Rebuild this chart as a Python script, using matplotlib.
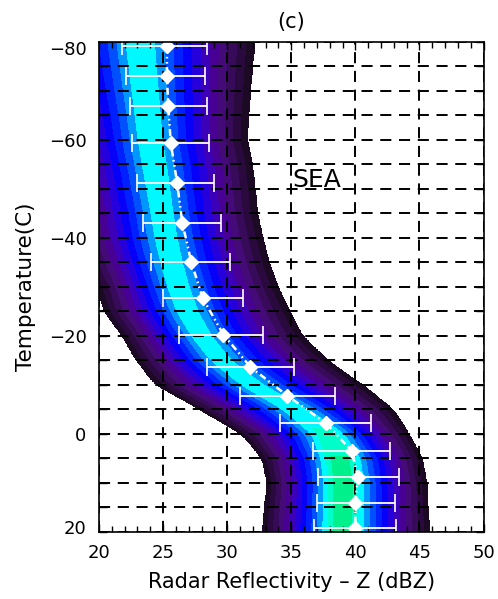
import numpy as np
import matplotlib
matplotlib.use("Agg")
import matplotlib.pyplot as plt
import matplotlib.transforms as mtransforms
from matplotlib.colors import ListedColormap, BoundaryNorm
from matplotlib.ticker import MultipleLocator, FixedLocator

plt.rcParams['font.family'] = ['DejaVu Sans']
plt.rcParams['lines.scale_dashes'] = False

# ---- axis tick values ----
x_ticks = [20, 25, 30, 35, 40, 45, 50]
y_ticks = [-80, -60, -40, -20, 0, 20]

# ---- mean reflectivity profile with spread (white diamonds + bars) ----
mean_temp = [-79.1, -73.1, -67.0, -59.4, -51.2, -43.1, -35.1, -27.65,
             -20.3, -13.7, -7.8, -2.2, 3.4, 8.7, 14.0, 19.1]
mean_dbz = [25.3, 25.3, 25.4, 25.6, 26.1, 26.5, 27.2, 28.1,
            29.7, 31.8, 34.7, 37.7, 39.7, 40.2, 40.0, 40.0]
err_low = [21.8, 22.1, 22.4, 22.6, 23.0, 23.45, 24.05, 24.96,
           26.26, 28.4, 31.0, 34.1, 36.7, 37.1, 37.0, 36.8]
err_high = [28.4, 28.3, 28.4, 28.6, 29.0, 29.5, 30.2, 31.25,
            32.8, 35.2, 38.4, 41.2, 42.7, 43.4, 43.1, 43.2]

# ---- CFAD frequency shape per temperature level ----
cfad_temp = [-80, -75, -70, -65, -60, -55, -50, -45, -40, -35, -30,
             -25, -20, -15, -10, -5, 0, 5, 10, 15, 20]
cfad_mode = [23.2, 23.4, 23.6, 23.8, 24.0, 24.3, 24.6, 24.9, 25.2, 25.6, 26.1,
             26.8, 27.9, 29.4, 31.9, 35.3, 37.9, 38.8, 39.0, 39.0, 39.0]
cfad_left = [14.3, 14.8, 15.3, 15.9, 16.4, 16.9, 17.3, 17.7, 18.1, 18.9, 19.8,
             20.4, 21.8, 22.9, 24.4, 27.8, 31.1, 32.7, 33.1, 32.9, 32.7]
cfad_right = [32.2, 32.0, 31.85, 31.7, 31.6, 32.0, 32.2, 32.4, 32.8, 33.3, 34.0,
              34.9, 35.9, 37.9, 40.6, 43.0, 44.2, 45.25, 45.6, 45.7, 45.8]
cfad_peak = [11.3, 11.3, 11.3, 11.3, 11.3, 11.3, 11.25, 11.2, 11.2, 11.2, 11.2,
             11.15, 11.1, 11.05, 11.05, 11.3, 12.2, 13.1, 13.2, 13.15, 13.1]

band_colors = ['#1c0a24', '#2a0a3e', '#380a5a', '#440a78', '#480094',
               '#3c00b8', '#2600dc', '#0600f8', '#0020ff', '#0050ff',
               '#0098ff', '#00f8ff', '#00ffc8', '#00f08c']

# ---- build density field from the per-level shape ----
T = np.linspace(-85, 25, 551)
Zb = np.linspace(10, 52, 841)

def smooth_interp(vals):
    f = np.interp(T, cfad_temp, vals)
    k = 13
    pad = np.pad(f, k // 2, mode='edge')
    return np.convolve(pad, np.ones(k) / k, mode='valid')

m = smooth_interp(cfad_mode)[:, None]
L = smooth_interp(cfad_left)[:, None]
R = smooth_interp(cfad_right)[:, None]
P = smooth_interp(cfad_peak)[:, None]
ZZ = Zb[None, :]
d = np.where(ZZ < m, (m - ZZ) / (m - L), (ZZ - m) / (R - m))
flat = 0.10
v = P * np.clip((1 - d) / (1 - flat), None, 1.0)
v = np.where(d < 1, v, -1.0)

fig = plt.figure(figsize=(4.98, 5.99), dpi=100)
ax = fig.add_axes([0.1988, 0.1119, 0.7722, 0.818])

levels = np.arange(0, len(band_colors) + 1)
cmap = ListedColormap(band_colors)
norm = BoundaryNorm(levels, cmap.N)
ax.contourf(Zb, T, v, levels=levels, cmap=cmap, norm=norm, zorder=1,
            antialiased=False)

# axes, ticks and grid
ax.set_xlim(x_ticks[0], x_ticks[-1])
ax.set_ylim(y_ticks[-1], y_ticks[0])
ax.set_axisbelow(False)
ax.xaxis.set_major_locator(FixedLocator(x_ticks))
ax.xaxis.set_minor_locator(MultipleLocator(1))
ax.yaxis.set_major_locator(FixedLocator(y_ticks))
ax.yaxis.set_minor_locator(MultipleLocator(5))
gkw = dict(color='black', linewidth=1.4, linestyle=(0, (8, 5.5)))
ax.grid(True, which='major', axis='x', **gkw)
ax.grid(True, which='both', axis='y', **gkw)

# mean profile
xerr = [np.array(mean_dbz) - np.array(err_low), np.array(err_high) - np.array(mean_dbz)]
ax.errorbar(mean_dbz, mean_temp, xerr=xerr, fmt='none', ecolor='white',
            elinewidth=1.3, capsize=6.5, capthick=1.2, zorder=4)
ax.plot(mean_dbz, mean_temp, color='white', linewidth=1.8,
        linestyle=(0, (5, 2.5, 1.2, 2.5, 1.2, 2.5)), zorder=5)
ax.plot(mean_dbz, mean_temp, linestyle='none', marker='D', markersize=7,
        markerfacecolor='white', markeredgecolor='white', zorder=6)

ax.tick_params(which='both', direction='in', top=True, right=True,
               colors='black', labelsize=13, width=1)
ax.tick_params(which='major', length=6, pad=9)
ax.tick_params(which='minor', length=4)
ax.tick_params(axis='y', which='minor', length=6)
for s in ax.spines.values():
    s.set_linewidth(1.2)
    s.set_zorder(7)

# shift the end labels of the y axis inward, as in the original
yt = ax.yaxis.get_major_ticks()
yt[0].label1.set_transform(yt[0].label1.get_transform() +
                           mtransforms.ScaledTranslation(0, -0.06, fig.dpi_scale_trans))
yt[-1].label1.set_transform(yt[-1].label1.get_transform() +
                            mtransforms.ScaledTranslation(0, 0.05, fig.dpi_scale_trans))

ax.set_xlabel('Radar Reflectivity – Z (dBZ)', fontsize=15, labelpad=7)
ax.set_ylabel('Temperature(C)', fontsize=15.5, labelpad=9)
ax.set_title('(c)', fontsize=15, pad=10)
ax.text(37.0, -51.8, 'SEA', fontsize=18, ha='center', va='center',
        color='black', zorder=8)

fig.savefig('out.png', dpi=100)
